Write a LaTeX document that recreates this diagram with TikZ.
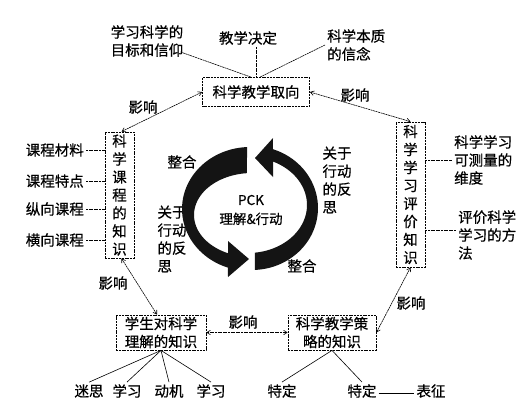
\documentclass[tikz,border=0pt]{standalone}
\usepackage{fontspec}
\setmainfont{Noto Sans CJK SC}[FakeBold=0.6]
\usetikzlibrary{arrows.meta,calc}
\begin{document}
\begin{tikzpicture}[x=1pt,y=-1pt,
  every node/.style={font=\fontsize{14.5}{18}\selectfont, inner sep=2pt},
  box/.style={draw, line width=0.8pt, dash pattern=on 2pt off 0.8pt, fill=white, inner sep=0pt, align=center},
  lnk/.style={line width=0.6pt, dash pattern=on 2pt off 0.6pt},
  inf/.style={lnk, {Straight Barb[length=3.5pt,width=4.5pt]}-{Straight Barb[length=3.5pt,width=4.5pt]}},
  lbl/.style={align=left}]
\useasboundingbox (0,0) rectangle (528,400);
\fill[white] (0,0) rectangle (528,400);

% top labels
\node[lbl] (t1) at (147,41) {学习科学的\\目标和信仰};
\node (t2) at (248,38) {教学决定};
\node[lbl, anchor=west] (t3) at (325,45) {科学本质\\的信念};

% boxes
\node[box, minimum width=107, minimum height=29] (orient) at (256,92) {科学教学取向};
\node[box, minimum width=29, minimum height=126] (lbox) at (119.5,195) {科\\学\\课\\程\\的\\知\\识};
\node[box, minimum width=29, minimum height=145] (rbox) at (410.5,194.5) {科\\学\\学\\习\\评\\价\\知\\识};
\node[box, minimum width=90, minimum height=35] (stud) at (161,332.5) {学生对科学\\理解的知识};
\node[box, minimum width=88, minimum height=35] (strat) at (332,332.5) {科学教学策\\略的知识};

% left labels
\node[anchor=east] (l1) at (86,150) {课程材料};
\node[anchor=east] (l2) at (86,181) {课程特点};
\node[anchor=east] (l3) at (86,209) {纵向课程};
\node[anchor=east] (l4) at (86,240) {横向课程};
\foreach \n in {l1,l2,l3,l4} \draw[lnk] (\n.east) -- (\n.east -| lbox.west);

% right labels
\node[lbl, anchor=west] (r1) at (452,160) {科学学习\\可测量的\\维度};
\node[lbl, anchor=west] (r2) at (456,235) {评价科学\\学习的方\\法};
\draw[lnk] (r1.west -| rbox.east) -- (r1.west);
\draw[lnk] ([yshift=5pt]r2.west -| rbox.east) -- ([yshift=5pt]r2.west);

% top connectors
\draw[lnk] ($(t1.south east)+(-5,-7)$) -- ([xshift=-5pt]orient.north);
\draw[lnk] (orient.north |- t2.south) -- (orient.north);
\draw[lnk] (t3.west) -- ([xshift=4pt]orient.north);

% influence arrows
\draw[inf] ([xshift=2pt]lbox.north) -- (orient.west);
\node (y1) at (143,107) {影响};
\draw[inf] (orient.east) -- (rbox.north);
\node (y2) at (355,95) {影响};
\draw[inf] ([xshift=2pt]lbox.south) -- ([xshift=-4pt]stud.north);
\node (y3) at (113,283) {影响};
\draw[inf] (stud.east) -- (strat.west);
\node (y4) at (243,322) {影响};
\draw[inf] (strat.east) -- (rbox.south);
\node (y5) at (411,303) {影响};

% bottom labels
\node (b1) at (89,391) {迷思};
\node (b2) at (127,391) {学习};
\node (b3) at (169,391) {动机};
\node (b4) at (211,391) {学习};
\foreach \n in {b1,b2,b3,b4} \draw[line width=0.6pt] (stud.south) -- (\n.north);
\node (s1) at (282,391) {特定};
\node (s2) at (362,391) {特定};
\node (s3) at (431,391) {表征};
\draw[line width=0.6pt] (strat.south) -- (s1.north);
\draw[line width=0.6pt] (strat.south) -- (s2.north);
\draw[line width=0.8pt] ([yshift=-2pt]s2.east) -- ([yshift=-2pt]s3.west);

% cycle texts
\node[align=center, font=\fontsize{13.5}{19}\selectfont] (pck) at (251,210) {PCK\\理解\&行动};
\node (g1) at (182,162) {整合};
\node (g2) at (302,266) {整合};
\node[lbl] (f1) at (337,180) {关于\\行动\\的反\\思};
\node[lbl] (f2) at (172,239) {关于\\行动\\的反\\思};

% cycle arrows
\fill[black!92] plot[domain=267.5:108.9, samples=50] ({250+68*cos(\x)},{209+62*sin(\x)})
  -- (228,277) -- (249,259) -- (228,241)
  -- plot[domain=114.4:265, samples=50] ({252+58*cos(\x)},{215+42*sin(\x)}) -- cycle;
\fill[black!92] plot[domain=87.4:-71.5, samples=50] ({252+66*cos(\x)},{208+62*sin(\x)})
  -- (273,138) -- (255,158) -- (273,177)
  -- plot[domain=-64.9:83.2, samples=50] ({248+59*cos(\x)},{205+48*sin(\x)}) -- cycle;
\end{tikzpicture}
\end{document}
